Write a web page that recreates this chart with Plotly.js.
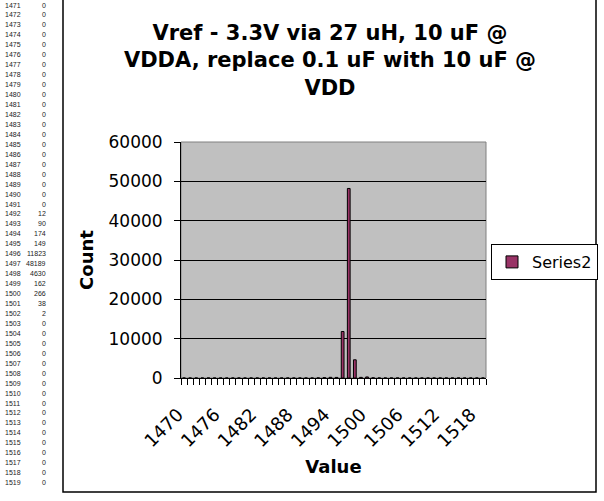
<!DOCTYPE html>
<html>
<head>
<meta charset="utf-8">
<script src="https://cdn.plot.ly/plotly-3.0.1.min.js"></script>
<style>
html,body{margin:0;padding:0;background:#fff;}
#chart{width:604px;height:501px;}
</style>
</head>
<body>
<div id="chart"></div>
<script>
// Histogram bins (category values) and counts
const values = [1470,1471,1472,1473,1474,1475,1476,1477,1478,1479,1480,1481,1482,1483,1484,1485,1486,1487,1488,1489,1490,1491,1492,1493,1494,1495,1496,1497,1498,1499,1500,1501,1502,1503,1504,1505,1506,1507,1508,1509,1510,1511,1512,1513,1514,1515,1516,1517,1518,1519];
const counts = [0,0,0,0,0,0,0,0,0,0,0,0,0,0,0,0,0,0,0,0,0,0,12,90,174,149,11823,48189,4630,162,266,38,2,0,0,0,0,0,0,0,0,0,0,0,0,0,0,0,0,0];
const xTickVals = [1470,1476,1482,1488,1494,1500,1506,1512,1518];
const yTickVals = [0,10000,20000,30000,40000,50000,60000];
const seriesName = 'Series2';
const titleText = 'Vref - 3.3V via 27 uH, 10 uF @<br>VDDA, replace 0.1 uF with 10 uF @<br>VDD';

const W = 604, H = 501;
const L = 181, R = 486, T = 142, B = 378;
const pw = R - L, ph = B - T;
const px = x => (x - L) / pw;
const py = y => (B - y) / ph;

// spreadsheet column shown on left (rows 1471..1519)
const annotations = [];
const rowTop = 5, rowPitch = 9.95;
for (let i = 1; i < values.length; i++) {
  const yy = rowTop + (i - 1) * rowPitch;
  annotations.push({xref:'paper', yref:'paper', x:px(3), y:py(yy), xanchor:'left', yanchor:'middle',
    text:String(values[i]), showarrow:false, font:{family:'Liberation Sans, Arial', size:7, color:'#222'}});
  annotations.push({xref:'paper', yref:'paper', x:px(48), y:py(yy), xanchor:'right', yanchor:'middle',
    text:String(counts[i]), showarrow:false, font:{family:'Liberation Sans, Arial', size:7, color:'#222'}});
}

const trace = {
  type:'bar', x:values, y:counts, name:seriesName, width:0.45,
  marker:{color:'#993366', line:{color:'#000', width:1}},
  showlegend:true
};

const layout = {
  width:W, height:H,
  margin:{l:L, r:W-R, t:T, b:H-B, pad:0, autoexpand:false},
  paper_bgcolor:'#fff', plot_bgcolor:'#c0c0c0',
  font:{family:'DejaVu Sans, Arial', color:'#000'},
  title:{text:titleText, xref:'container', yref:'container', x:330/W, xanchor:'center',
    y:1-40/H, yanchor:'top', font:{family:'DejaVu Sans, Arial', size:21, weight:'bold', color:'#000'}},
  showlegend:true,
  legend:{xref:'container', yref:'container', x:491/W, y:1-262/H, xanchor:'left', yanchor:'middle',
    bordercolor:'#000', borderwidth:1, itemwidth:30,
    bgcolor:'#fff', font:{family:'DejaVu Sans, Arial', size:16, color:'#000'}},
  xaxis:{type:'linear', range:[1469.5,1519.5], tickmode:'array', tickvals:xTickVals, ticks:'',
    tickangle:-45, tickfont:{size:18, color:'#000'}, showgrid:false, zeroline:false, automargin:false,
    showline:true, linecolor:'#000', linewidth:1, ticklabelstandoff:18, ticklabelshift:-6,
    minor:{tick0:1469.5, dtick:1, ticks:'outside', ticklen:6, tickcolor:'#000', showgrid:false},
    title:{text:'Value', font:{size:18, weight:'bold', color:'#000'}, standoff:10}},
  yaxis:{range:[0,60000], tickmode:'array', tickvals:yTickVals, tickformat:'d', ticks:'outside', ticklen:6, tickcolor:'#000',
    tickfont:{size:17, color:'#000'}, showgrid:true, gridcolor:'#000', gridwidth:1, zeroline:false, automargin:false,
    showline:true, linecolor:'#000', linewidth:1, ticklabelstandoff:8,
    title:{text:'Count', font:{size:18, weight:'bold', color:'#000'}, standoff:10}},
  bargap:0.5,
  shapes:[
    {type:'rect', xref:'paper', yref:'paper', x0:0, x1:1, y0:0, y1:1, line:{color:'#808080', width:1}, layer:'below'},
    {type:'rect', xref:'paper', yref:'paper', x0:px(63), x1:px(596), y0:py(492), y1:py(-20), line:{color:'#000', width:1.5}}
  ],
  annotations:annotations
};

Plotly.newPlot('chart', [trace], layout, {displayModeBar:false, staticPlot:true});
</script>
</body>
</html>
